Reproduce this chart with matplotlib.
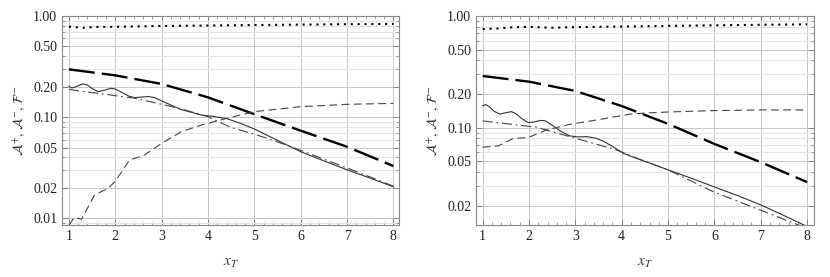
import numpy as np
import matplotlib
matplotlib.use('Agg')
import matplotlib.pyplot as plt
from matplotlib.ticker import FixedLocator, LogLocator, NullFormatter, MultipleLocator

plt.rcParams['font.family'] = ['Liberation Serif', 'DejaVu Serif']
plt.rcParams['mathtext.fontset'] = 'stix'

# ---- left panel data ----
L_dot_x = [1, 1.3, 1.6, 2, 2.5, 3, 4, 5, 6, 7, 8]
L_dot_y = [0.785, 0.765, 0.78, 0.782, 0.79, 0.797, 0.805, 0.815, 0.822, 0.83, 0.834]

L_long_x = [1, 2, 3, 4, 5, 6, 7, 8]
L_long_y = [0.297, 0.259, 0.213, 0.157, 0.107, 0.0736, 0.051, 0.0329]

L_solid_x = [1.0, 1.05, 1.1, 1.2, 1.3, 1.4, 1.5, 1.63, 1.75, 1.9, 2.0, 2.15, 2.3, 2.42, 2.55, 2.72, 2.85,
             3.0, 3.2, 3.4, 3.6, 3.86, 4.1, 4.4, 4.7, 5.0, 5.5, 6.0, 6.5, 7.0, 7.5, 8.0]
L_solid_y = [0.203, 0.195, 0.196, 0.205, 0.213, 0.208, 0.192, 0.179, 0.184, 0.193, 0.19, 0.175, 0.161,
             0.156, 0.158, 0.160, 0.156, 0.145, 0.132, 0.120, 0.113, 0.105, 0.102, 0.097, 0.087, 0.0764,
             0.059, 0.0456, 0.037, 0.0302, 0.025, 0.0205]

L_dd_x = [1.0, 1.63, 2.42, 3.07, 3.5, 4.0, 4.5, 5.0, 5.5, 6, 7, 8]
L_dd_y = [0.188, 0.172, 0.154, 0.132, 0.118, 0.101, 0.079, 0.068, 0.057, 0.047, 0.0315, 0.0208]

L_sd_x = [1.0, 1.12, 1.27, 1.55, 1.84, 1.99, 2.31, 2.63, 3.0, 3.43, 3.86, 4.43, 5.0, 6.0, 7.0, 8.0]
L_sd_y = [0.0086, 0.01025, 0.0098, 0.017, 0.0198, 0.023, 0.0378, 0.0423, 0.0552, 0.072, 0.0838, 0.098,
          0.1135, 0.127, 0.134, 0.137]

# ---- right panel data ----
R_dot_x = [1, 1.3, 1.6, 2, 2.5, 3, 4, 5, 6, 7, 8]
R_dot_y = [0.765, 0.772, 0.79, 0.80, 0.785, 0.795, 0.805, 0.815, 0.825, 0.835, 0.842]

R_long_x = [1, 2, 3, 4, 5, 6, 7, 8]
R_long_y = [0.290, 0.258, 0.213, 0.156, 0.108, 0.0714, 0.049, 0.0325]

R_solid_x = [1.0, 1.07, 1.15, 1.25, 1.37, 1.5, 1.62, 1.72, 1.85, 1.98, 2.1, 2.25, 2.35, 2.5, 2.7, 2.88,
             3.05, 3.25, 3.46, 3.6, 3.8, 4.03, 4.2, 4.4, 4.7, 5.0, 5.5, 6.0, 6.5, 7.0, 7.5, 8.0]
R_solid_y = [0.157, 0.161, 0.153, 0.140, 0.132, 0.136, 0.139, 0.133, 0.120, 0.111, 0.112, 0.116, 0.115,
             0.105, 0.092, 0.0843, 0.0825, 0.0830, 0.080, 0.0755, 0.068, 0.059, 0.0553, 0.0515, 0.0465,
             0.0418, 0.0352, 0.0294, 0.0246, 0.0203, 0.0163, 0.0130]

R_dd_x = [1.0, 2.16, 2.88, 3.89, 4.39, 5.0, 5.97, 6.98, 8.0]
R_dd_y = [0.1148, 0.1007, 0.083, 0.063, 0.052, 0.0418, 0.0267, 0.0183, 0.0125]

R_sd_x = [1.0, 1.34, 1.66, 1.98, 2.38, 2.88, 3.46, 4.17, 4.5, 5.0, 6.0, 7.0, 8.0]
R_sd_y = [0.0667, 0.0686, 0.080, 0.0814, 0.0953, 0.107, 0.117, 0.132, 0.135, 0.138, 0.142, 0.144, 0.144]

panels = [
    dict(dot=(L_dot_x, L_dot_y), long=(L_long_x, L_long_y), solid=(L_solid_x, L_solid_y),
         dd=(L_dd_x, L_dd_y), sd=(L_sd_x, L_sd_y), ylim=(0.0086, 1.0), xlim=(0.85, 8.12),
         majors=[0.01, 0.02, 0.05, 0.1, 0.2, 0.5, 1.0]),
    dict(dot=(R_dot_x, R_dot_y), long=(R_long_x, R_long_y), solid=(R_solid_x, R_solid_y),
         dd=(R_dd_x, R_dd_y), sd=(R_sd_x, R_sd_y), ylim=(0.0134, 1.0), xlim=(0.856, 8.145),
         majors=[0.02, 0.05, 0.1, 0.2, 0.5, 1.0]),
]

fig = plt.figure(figsize=(8.3, 2.77), dpi=100)
rects = [[0.0747, 0.1877, 0.406, 0.7545], [0.5735, 0.1877, 0.407, 0.7545]]

for rect, p in zip(rects, panels):
    ax = fig.add_axes(rect)
    ax.set_yscale('log')
    ax.set_xlim(*p['xlim'])
    ax.set_ylim(*p['ylim'])

    ax.plot(*p['dot'], color='black', lw=1.5, linestyle=(0, (1, 2.3)))
    ax.plot(*p['long'], color='black', lw=1.7, linestyle=(0, (11, 3)))
    ax.plot(*p['solid'], color='#333333', lw=0.8)
    ax.plot(*p['dd'], color='#444444', lw=0.8, linestyle=(0, (9, 3.5, 1.5, 3.5)))
    ax.plot(*p['sd'], color='#444444', lw=0.8, linestyle=(0, (7, 4)))

    ax.yaxis.set_major_locator(FixedLocator(p['majors']))
    ax.set_yticklabels(['%.2f' % v for v in p['majors']])
    ax.yaxis.set_minor_locator(LogLocator(base=10, subs=np.arange(1, 10), numticks=20))
    ax.yaxis.set_minor_formatter(NullFormatter())
    ax.xaxis.set_major_locator(MultipleLocator(1))
    ax.xaxis.set_minor_locator(MultipleLocator(0.2))

    ax.grid(True, which='major', color='#c8c8c8', lw=0.7)
    ax.grid(True, which='minor', axis='y', color='#e4e4e4', lw=0.8)
    ax.set_axisbelow(True)

    ax.tick_params(which='both', direction='in', top=True, right=True,
                   color='#777777', labelsize=10, labelcolor='#222222')
    ax.tick_params(which='major', length=4, width=0.6)
    ax.tick_params(which='minor', length=2, width=0.5)
    for s in ax.spines.values():
        s.set_color('#888888')
        s.set_linewidth(0.8)

    ax.set_xlabel(r'$x_T$', fontsize=11, color='#333333', labelpad=10)
    ax.set_ylabel(r'$\mathcal{A}^{+},\,\mathcal{A}^{-},\,\mathcal{F}^{-}$', fontsize=10,
                  color='#333333', labelpad=4)

fig.savefig('out.png', dpi=100)
